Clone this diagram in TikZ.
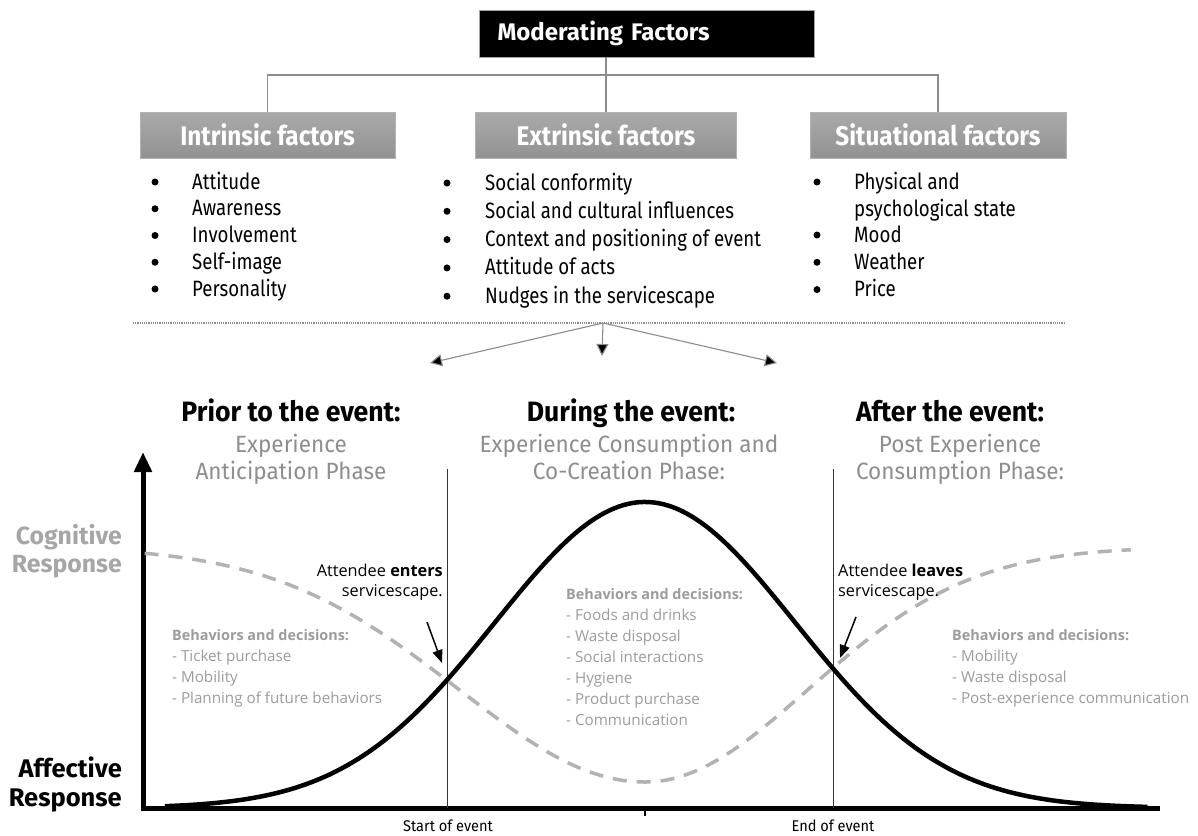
\documentclass[tikz,border=0pt]{standalone}
\usepackage{fontspec}
\setmainfont{Open Sans}
\newfontfamily\fira{Fira Sans}
\newfontfamily\firabox[FakeStretch=0.9]{Fira Sans}
\newfontfamily\firahead[FakeStretch=0.95]{Fira Sans}
\newfontfamily\firasub[FakeStretch=0.96]{Fira Sans}
\newfontfamily\firalist[FakeStretch=0.84]{Fira Sans}
\newfontfamily\firalab[FakeStretch=0.94]{Fira Sans}
\usetikzlibrary{arrows.meta}
\definecolor{boxtop}{HTML}{AAAAAA}
\definecolor{boxbot}{HTML}{929292}
\definecolor{txtgray}{HTML}{9C9C9C}
\definecolor{subgray}{HTML}{8E8E8E}
\definecolor{linegray}{HTML}{8C8C8C}
\definecolor{dashgray}{HTML}{B2B2B2}
\definecolor{coggray}{HTML}{A6A6A6}
\begin{document}
\begin{tikzpicture}[x=1pt,y=-1pt,
  mfbox/.style={fill=black, draw=gray!70, minimum height=47, text width=299, inner xsep=18, inner ysep=0, align=left, text=white, font=\fira\bfseries\fontsize{24}{28}\selectfont},
  facbox/.style={top color=boxtop, bottom color=boxbot, draw=gray!60, minimum height=46, inner sep=0, text=white, font=\firabox\bfseries\fontsize{27}{30}\selectfont},
  conn/.style={draw=linegray, line width=1.1},
  bul/.style={circle, fill=black, inner sep=0, minimum size=7},
  itm/.style={anchor=base west, inner sep=0, font=\firalist\fontsize{22.2}{26}\selectfont},
  split/.style={draw=linegray, line width=1.1, -{Triangle[length=12,width=12,fill=black]}},
  head/.style={anchor=base, inner sep=0, font=\firahead\bfseries\fontsize{28}{32}\selectfont},
  sub/.style={anchor=base, inner sep=0, text=subgray, font=\firasub\fontsize{23.5}{27}\selectfont},
  axis/.style={line width=5, line cap=butt},
  evline/.style={draw=black!80, line width=0.9},
  evlab/.style={anchor=base, inner sep=0, font=\firalab\fontsize{15.5}{18}\selectfont},
  resp/.style={anchor=base east, inner sep=0, font=\fira\bfseries\fontsize{25.5}{29}\selectfont},
  att/.style={inner sep=0, font=\fontsize{16.3}{20}\selectfont},
  beh/.style={anchor=base west, inner sep=0, text=txtgray, font=\fontsize{15.2}{21}\selectfont},
  behh/.style={anchor=base west, inner sep=0, text=txtgray, font=\bfseries\fontsize{14.4}{21}\selectfont},
  pointer/.style={line width=1.5, -{Triangle[length=13,width=10]}},
  bell/.style={line width=4.5, line join=round},
  cog/.style={draw=dashgray, line width=3.5, dash pattern=on 14 off 10}
]
\useasboundingbox[fill=white] (0,0) rectangle (1198,835);

% ---------- top block ----------
\node[mfbox] (mf) at (647,33.5) {Moderating Factors};
\node[facbox, minimum width=255] (int) at (267.5,135) {Intrinsic factors};
\node[facbox, minimum width=261] (ext) at (606,135) {Extrinsic factors};
\node[facbox, minimum width=256] (sit) at (938,135) {Situational factors};
\coordinate (hy) at (606,75);
\draw[conn] (ext.north |- mf.south) -- (ext.north);
\draw[conn] (int.north) -- (int.north |- hy) -- (sit.north |- hy) -- (sit.north);

% bullets
\foreach \t [count=\i] in {Attitude,Awareness,Involvement,Self-image,Personality}{
  \node[bul] (ib\i) at (155,{182+26.75*(\i-1)}) {};
  \node[itm] (it\i) at (192,{189+26.75*(\i-1)}) {\t};
}
\foreach \t [count=\i] in {Social conformity,Social and cultural influences,Context and positioning of event,Attitude of acts,Nudges in the servicescape}{
  \node[bul] (eb\i) at (447,{183+28.3*(\i-1)}) {};
  \node[itm] (et\i) at (485,{190+28.3*(\i-1)}) {\t};
}
\node[bul] (sb1) at (817,182) {};
\node[itm] (st1) at (854,189) {Physical and};
\node[itm] (st1b) at (854,216) {psychological state};
\foreach \t [count=\i] in {Mood,Weather,Price}{
  \node[bul] (sb\i x) at (817,{235+27.3*(\i-1)}) {};
  \node[itm] (st\i x) at (854,{242+27.3*(\i-1)}) {\t};
}

% separator and split arrows
\coordinate (sepL) at (133,323);
\coordinate (sepR) at (1065,323);
\draw[draw=linegray, line width=1.2, densely dotted] (sepL) -- (sepR);
\coordinate (src) at (603,323);
\coordinate (a1) at (430,363);
\coordinate (a2) at (602,356);
\coordinate (a3) at (777,363);
\draw[split] (src) -- (a1);
\draw[split] (src) -- (a2);
\draw[split] (src) -- (a3);

% ---------- phase headings ----------
\node[head] (h1) at (291,421) {Prior to the event:};
\node[sub] (p1a) at (291,452) {Experience};
\node[sub] (p1b) at (291,479) {Anticipation Phase};
\node[head] (h2) at (631,421) {During the event:};
\node[sub] (p2a) at (629,452) {Experience Consumption and};
\node[sub] (p2b) at (629,479) {Co-Creation Phase:};
\node[head] (h3) at (950,421) {After the event:};
\node[sub] (p3a) at (960,452) {Post Experience};
\node[sub] (p3b) at (960,479) {Consumption Phase:};

% ---------- chart ----------
\coordinate (O) at (143,808);
\coordinate (ytop) at (143,452);
\coordinate (xL) at (140.5,808);
\coordinate (xend) at (1160,808);
\coordinate (tick) at (645,816);
\draw[axis, -{Triangle[length=20,width=17]}] (O) -- (ytop);
\draw[axis] (xL) -- (xend);
\draw[line width=2] (O -| tick) -- (tick);

\coordinate (s0) at (447,469);
\coordinate (s1) at (447,808);
\coordinate (e0) at (833,469);
\coordinate (e1) at (833,808);
\draw[evline] (s0) -- (s1);
\draw[evline] (e0) -- (e1);
\node[evlab] (sl) at (448,831.5) {Start of event};
\node[evlab] (el) at (833,831.5) {End of event};

% cognitive (dashed) curve
\draw[cog] plot[smooth, samples=60, domain=-2.69:0, variable=\u] ({645+186*\u},{547+235*exp(-\u*\u/2)})
  -- plot[smooth, samples=60, domain=0:2.98, variable=\u] ({645+163*\u},{547+235*exp(-\u*\u/2)});
% affective (bell) curve
\draw[bell] plot[smooth, samples=120, domain=-3.2:3.35, variable=\u] ({645+150*\u},{808-306*exp(-\u*\u/2)});

% axis labels
\node[resp, text=coggray, font=\fira\bfseries\fontsize{24.8}{29}\selectfont] (cr1) at (122,544) {Cognitive};
\node[resp, text=coggray, font=\fira\bfseries\fontsize{24.8}{29}\selectfont] (cr2) at (122,572) {Response};
\node[resp] (ar1) at (122,777) {Affective};
\node[resp] (ar2) at (122,806) {Response};

% attendee notes
\node[att, anchor=base east] (en1) at (443,576) {Attendee \textbf{enters}};
\node[att, anchor=base east] (en2) at (443,596) {servicescape.};
\coordinate (enA) at (427,622);
\coordinate (enB) at (442,663);
\draw[pointer] (enA) -- (enB);
\node[att, anchor=base west] (lv1) at (838,576) {Attendee \textbf{leaves}};
\node[att, anchor=base west] (lv2) at (838,596) {servicescape.};
\coordinate (lvA) at (856,617);
\coordinate (lvB) at (840,658);
\draw[pointer] (lvA) -- (lvB);

% behaviours
\node[behh] (bl0) at (172,640) {Behaviors and decisions:};
\foreach \t [count=\i] in {Ticket purchase,Mobility,Planning of future behaviors}{
  \node[beh] (bl\i) at (172,{640+21.3*\i}) {- \t};
}
\node[behh] (bc0) at (566,599) {Behaviors and decisions:};
\foreach \t [count=\i] in {Foods and drinks,Waste disposal,Social interactions,Hygiene,Product purchase,Communication}{
  \node[beh] (bc\i) at (566,{599+21.1*\i}) {- \t};
}
\node[behh] (br0) at (952,640) {Behaviors and decisions:};
\foreach \t [count=\i] in {Mobility,Waste disposal,Post-experience communication}{
  \node[beh] (br\i) at (952,{640+21.3*\i}) {- \t};
}
\end{tikzpicture}
\end{document}
